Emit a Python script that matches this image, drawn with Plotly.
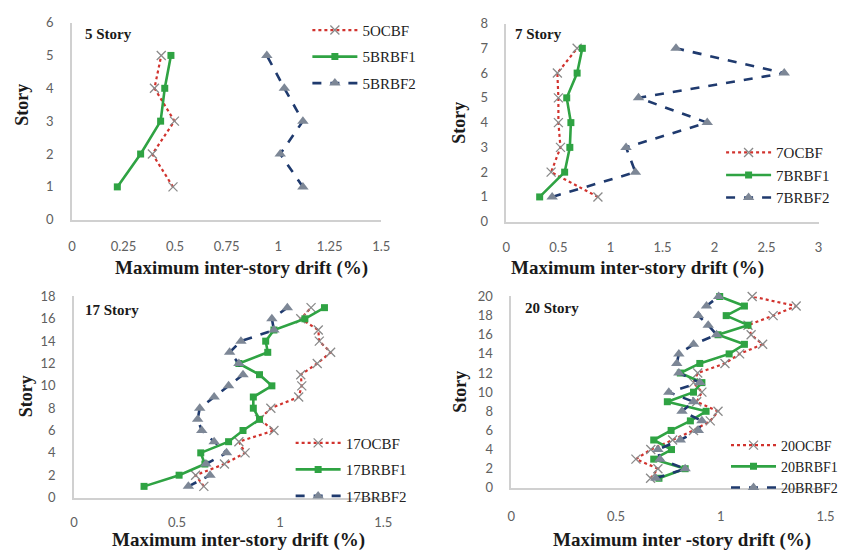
import plotly.graph_objects as go

# ---------------- data ----------------
stories5 = [1, 2, 3, 4, 5]
ocbf5 = [0.49, 0.39, 0.497, 0.40, 0.433]
brbf1_5 = [0.22, 0.333, 0.43, 0.45, 0.48]
brbf2_5 = [1.12, 1.01, 1.12, 1.03, 0.945]

stories7 = [1, 2, 3, 4, 5, 6, 7]
ocbf7 = [0.88, 0.43, 0.52, 0.50, 0.50, 0.49, 0.68]
brbf1_7 = [0.32, 0.56, 0.61, 0.62, 0.58, 0.68, 0.73]
brbf2_7 = [0.44, 1.24, 1.15, 1.93, 1.27, 2.67, 1.63]

stories17 = list(range(1, 18))
ocbf17 = [0.63, 0.59, 0.73, 0.83, 0.80, 0.97, 0.90, 0.955, 1.09, 1.105, 1.10,
          1.18, 1.245, 1.19, 1.185, 1.10, 1.15]
brbf1_17 = [0.34, 0.51, 0.635, 0.615, 0.75, 0.82, 0.90, 0.87, 0.87, 0.96, 0.90,
            0.80, 0.94, 0.93, 0.97, 1.12, 1.215]
brbf2_17 = [0.555, 0.66, 0.64, 0.74, 0.68, 0.62, 0.60, 0.61, 0.68, 0.75, 0.82,
            0.80, 0.755, 0.81, 0.97, 0.96, 1.035]

stories20 = list(range(1, 21))
ocbf20 = [0.665, 0.70, 0.595, 0.666, 0.77, 0.87, 0.95, 0.987, 0.885, 0.91,
          0.87, 0.89, 1.02, 1.09, 1.20, 1.145, 1.13, 1.25, 1.36, 1.15]
brbf1_20 = [0.705, 0.83, 0.68, 0.765, 0.68, 0.763, 0.855, 0.93, 0.745, 0.87,
            0.91, 0.807, 0.90, 1.04, 1.113, 0.987, 1.13, 1.026, 1.113, 0.995]
brbf2_20 = [0.69, 0.83, 0.71, 0.70, 0.807, 0.893, 0.91, 0.815, 0.87, 0.752,
            0.90, 0.80, 0.79, 0.80, 0.87, 0.98, 0.94, 0.893, 0.932, 0.99]

xticks_5 = [0, 0.25, 0.5, 0.75, 1, 1.25, 1.5]
xticklabels_5 = ["0", "0.25", "0.5", "0.75", "1", "1.25", "1.5"]
xticks_7 = [0, 0.5, 1, 1.5, 2, 2.5, 3]
xticklabels_7 = ["0", "0.5", "1", "1.5", "2", "2.5", "3"]
xticks_17 = [0, 0.5, 1, 1.5]
xticklabels_17 = ["0", "0.5", "1", "1.5"]

panel_titles = ["5 Story", "7 Story", "17 Story", "20 Story"]
names5 = ["5OCBF", "5BRBF1", "5BRBF2"]
names7 = ["7OCBF", "7BRBF1", "7BRBF2"]
names17 = ["17OCBF", "17BRBF1", "17BRBF2"]
names20 = ["20OCBF", "20BRBF1", "20BRBF2"]
xtitle = "Maximum inter-story drift (%)"
xtitle20 = "Maximum inter -story drift (%)"
ytitle = "Story"

# ---------------- styling ----------------
W, H = 867, 558
RED = "#d1332e"
GREEN = "#2fa343"
NAVY = "#1f3a6e"
XGRAY = "#8a8a8a"
TRIGRAY = "#7d8796"
AXIS = "#d0d0d0"
TICK = "#606060"
SERIF = "Liberation Serif"
SANS = "Lato"


def px_x(p):
    return p / W


def px_y(p):
    return 1 - p / H


fig = go.Figure()

panels = [
    ("", stories5, (ocbf5, brbf1_5, brbf2_5), names5, "legend"),
    ("2", stories7, (ocbf7, brbf1_7, brbf2_7), names7, "legend2"),
    ("3", stories17, (ocbf17, brbf1_17, brbf2_17), names17, "legend3"),
    ("4", stories20, (ocbf20, brbf1_20, brbf2_20), names20, "legend4"),
]

for suf, st, (a, b, c), nm, leg in panels:
    xa, ya = "x" + suf, "y" + suf
    fig.add_trace(go.Scatter(
        x=a, y=st, name=nm[0], mode="lines+markers", xaxis=xa, yaxis=ya,
        legend=leg, legendgroup=nm[0], cliponaxis=False,
        line=dict(color=RED, width=2.2, dash="dot"),
        marker=dict(symbol="x-thin", size=9, line=dict(color=XGRAY, width=1.3), color=XGRAY)))
    fig.add_trace(go.Scatter(
        x=b, y=st, name=nm[1], mode="lines+markers", xaxis=xa, yaxis=ya,
        legend=leg, legendgroup=nm[1], cliponaxis=False,
        line=dict(color=GREEN, width=2.6),
        marker=dict(symbol="square", size=7, color=GREEN)))
    fig.add_trace(go.Scatter(
        x=c, y=st, name=nm[2], mode="lines+markers", xaxis=xa, yaxis=ya,
        legend=leg, legendgroup=nm[2], cliponaxis=False,
        line=dict(color=NAVY, width=2.6, dash="dash"),
        marker=dict(symbol="triangle-up", size=10, color=TRIGRAY)))

# axis geometry in pixels: (x0, x1, ytop, ybottom)
geo = {
    "": (69, 383, 15, 218),
    "2": (510, 827, 16, 220),
    "3": (71, 385, 297, 504),
    "4": (515, 834, 297, 494),
}
xranges = {"": [0, 1.5], "2": [0, 3], "3": [0, 1.5], "4": [0, 1.5]}
yranges = {"": [0, 6], "2": [0, 8], "3": [0, 18], "4": [0, 20]}
ydt = {"": 1, "2": 1, "3": 2, "4": 2}
xstand = {"": 14, "2": 13, "3": 12, "4": 16}
xt = {"": (xticks_5, xticklabels_5), "2": (xticks_7, xticklabels_7),
      "3": (xticks_17, xticklabels_17), "4": (xticks_17, xticklabels_17)}

layout = {}
for suf, (x0, x1, yt, yb) in geo.items():
    layout["xaxis" + suf] = dict(
        domain=[px_x(x0), px_x(x1)], range=xranges[suf], anchor="y" + suf,
        showline=True, linecolor=AXIS, linewidth=1.5, showgrid=False, zeroline=False,
        tickmode="array", tickvals=xt[suf][0], ticktext=xt[suf][1],
        ticks="", ticklabelstandoff=xstand[suf],
        tickfont=dict(family=SANS, size=13, color=TICK))
    layout["yaxis" + suf] = dict(
        domain=[px_y(yb), px_y(yt)], range=yranges[suf], anchor="x" + suf,
        showline=True, linecolor=AXIS, linewidth=1.5, showgrid=False, zeroline=False,
        dtick=ydt[suf], tick0=0, ticks="", ticklabelstandoff=14,
        tickfont=dict(family=SANS, size=13, color=TICK))

fig.update_layout(**layout)

ann = []
label_pos = [(80, 27), (517, 27), (80, 311), (527, 309)]
for (lx, ly), t in zip(label_pos, panel_titles):
    ann.append(dict(text="<b>%s</b>" % t, x=px_x(lx), y=px_y(ly), xref="paper", yref="paper",
                    xanchor="left", yanchor="middle", showarrow=False,
                    font=dict(family=SERIF, size=15, color="#1a1a1a")))
xt_pos = [(241, 268, xtitle), (643, 268, xtitle), (238, 548, xtitle), (688, 548, xtitle20)]
for tx, ty, t in xt_pos:
    ann.append(dict(text="<b>%s</b>" % t, x=px_x(tx), y=px_y(ty), xref="paper", yref="paper",
                    xanchor="center", yanchor="middle", showarrow=False,
                    font=dict(family=SERIF, size=19, color="#1a1a1a")))
yt_pos = [(18, 100), (462, 118), (22, 400), (463, 395)]
for tx, ty in yt_pos:
    ann.append(dict(text="<b>%s</b>" % ytitle, x=px_x(tx), y=px_y(ty), xref="paper", yref="paper",
                    xanchor="center", yanchor="middle", showarrow=False, textangle=-90,
                    font=dict(family=SERIF, size=18, color="#1a1a1a")))


def leg(x, y, gap, fs=15):
    return dict(x=px_x(x), y=px_y(y), xanchor="left", yanchor="top",
                bgcolor="rgba(0,0,0,0)",
                font=dict(family=SERIF, size=fs, color="#222222"),
                tracegroupgap=gap, traceorder="grouped", itemwidth=45)


fig.update_layout(
    width=W, height=H,
    margin=dict(l=0, r=0, t=0, b=0),
    paper_bgcolor="white", plot_bgcolor="white",
    annotations=ann,
    legend=leg(308, 6, 4),
    legend2=leg(728, 132, 0),
    legend3=leg(291, 431, 4),
    legend4=leg(733, 434, 0, 14),
)

fig.write_html("out.html")
